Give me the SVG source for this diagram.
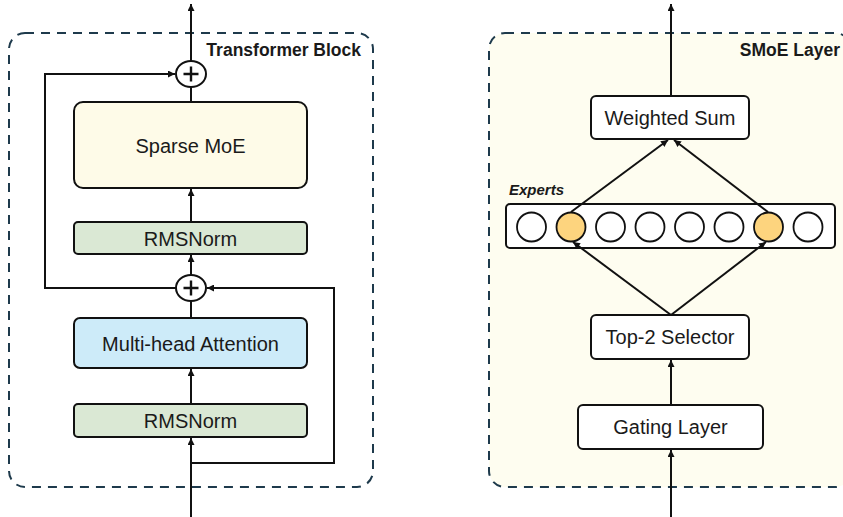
<svg xmlns="http://www.w3.org/2000/svg" width="843" height="517" viewBox="0 0 843 517" font-family="'Liberation Sans', Arial, sans-serif">
<style>
text{font-family:"Liberation Sans",Arial,sans-serif;fill:#1a1a1a}
.box{stroke:#111;stroke-width:2}
.ln{fill:none;stroke:#111;stroke-width:2}
.dash{fill:none;stroke:#1e3a4c;stroke-width:2;stroke-dasharray:9 7}
.lbl{font-size:20px;text-anchor:middle}
.ttl{font-size:17.5px;font-weight:bold;text-anchor:end}
.ex{fill:#fff;stroke:#111;stroke-width:1.8}
.exh{fill:#fdd47e;stroke:#111;stroke-width:1.8}
.plus{stroke:#111;stroke-width:2.4}
</style>
<defs>
<marker id="ah" viewBox="0 0 10 10" refX="10" refY="5" markerWidth="7" markerHeight="7" orient="auto" markerUnits="userSpaceOnUse"><path d="M0,0 L10,5 L0,10 z" fill="#111"/></marker>
</defs>
<rect width="843" height="517" fill="#fff"/>
<g id="transformer-block">
<rect class="dash" x="9" y="33" width="364" height="454" rx="16"/>
<text class="ttl" x="361" y="56">Transformer Block</text>
</g>
<g id="smoe-layer">
<rect x="489" y="33" width="362" height="454" rx="16" fill="#fefdf0"/>
<rect class="dash" x="489" y="33" width="362" height="454" rx="16"/>
<text class="ttl" x="840" y="56">SMoE Layer</text>
</g>
<g id="add-top">
<ellipse cx="191" cy="74" rx="15" ry="13" fill="#fff" stroke="#111" stroke-width="2"/>
<path class="plus" d="M183.5,74 H198.5 M191,66.5 V81.5"/>
</g>
<g id="sparse-moe">
<rect class="box" x="74" y="102" width="233" height="86" rx="9" fill="#fefbe8"/>
<text class="lbl" x="190.5" y="153">Sparse MoE</text>
</g>
<g id="rmsnorm-top">
<rect class="box" x="74" y="222" width="233" height="32" rx="4" fill="#dae8d4"/>
<text class="lbl" x="190.5" y="246">RMSNorm</text>
</g>
<g id="add-mid">
<ellipse cx="191" cy="288" rx="15" ry="13" fill="#fff" stroke="#111" stroke-width="2"/>
<path class="plus" d="M183.5,288 H198.5 M191,280.5 V295.5"/>
</g>
<g id="mha">
<rect class="box" x="74" y="318" width="233" height="50" rx="6" fill="#cdebf9"/>
<text class="lbl" x="190.5" y="350.5">Multi-head Attention</text>
</g>
<g id="rmsnorm-bottom">
<rect class="box" x="74" y="404" width="233" height="33" rx="4" fill="#dae8d4"/>
<text class="lbl" x="190.5" y="428">RMSNorm</text>
</g>
<g id="weighted-sum">
<rect class="box" x="591" y="96" width="158" height="43" rx="5" fill="#fff"/>
<text class="lbl" x="670" y="125">Weighted Sum</text>
</g>
<g id="experts">
<text x="509" y="195" style="font-size:15px;font-weight:bold;font-style:italic">Experts</text>
<rect class="box" x="506" y="204" width="329" height="44" rx="4" fill="#fff"/>
<circle class="ex" cx="531.5" cy="227" r="14.5"/>
<circle class="exh" cx="571" cy="227" r="14.5"/>
<circle class="ex" cx="610.5" cy="227" r="14.5"/>
<circle class="ex" cx="650" cy="227" r="14.5"/>
<circle class="ex" cx="689.5" cy="227" r="14.5"/>
<circle class="ex" cx="729" cy="227" r="14.5"/>
<circle class="exh" cx="768.5" cy="227" r="14.5"/>
<circle class="ex" cx="808" cy="227" r="14.5"/>
</g>
<g id="top2-selector">
<rect class="box" x="591" y="315" width="158" height="44" rx="5" fill="#fff"/>
<text class="lbl" x="670" y="344">Top-2 Selector</text>
</g>
<g id="gating-layer">
<rect class="box" x="578" y="405" width="185" height="44" rx="5" fill="#fff"/>
<text class="lbl" x="670.5" y="434">Gating Layer</text>
</g>
<g id="connectors">
<line class="ln" x1="191" y1="61" x2="191" y2="4" marker-end="url(#ah)"/>
<line class="ln" x1="191" y1="102" x2="191" y2="87"/>
<line class="ln" x1="191" y1="222" x2="191" y2="189" marker-end="url(#ah)"/>
<line class="ln" x1="191" y1="275" x2="191" y2="255" marker-end="url(#ah)"/>
<line class="ln" x1="191" y1="318" x2="191" y2="301"/>
<line class="ln" x1="191" y1="404" x2="191" y2="369" marker-end="url(#ah)"/>
<line class="ln" x1="191" y1="517" x2="191" y2="438" marker-end="url(#ah)"/>
<polyline class="ln" points="176,288 45,288 45,74 175,74" marker-end="url(#ah)"/>
<polyline class="ln" points="191,463 334,463 334,288 207,288" marker-end="url(#ah)"/>
<line class="ln" x1="671" y1="96" x2="671" y2="4" marker-end="url(#ah)"/>
<line class="ln" x1="571" y1="212" x2="668" y2="140" marker-end="url(#ah)"/>
<line class="ln" x1="768" y1="212" x2="674" y2="140" marker-end="url(#ah)"/>
<line class="ln" x1="671" y1="315" x2="573" y2="242" marker-end="url(#ah)"/>
<line class="ln" x1="671" y1="315" x2="766" y2="242" marker-end="url(#ah)"/>
<line class="ln" x1="671" y1="405" x2="671" y2="360" marker-end="url(#ah)"/>
<line class="ln" x1="671" y1="517" x2="671" y2="450" marker-end="url(#ah)"/>
</g>
</svg>
